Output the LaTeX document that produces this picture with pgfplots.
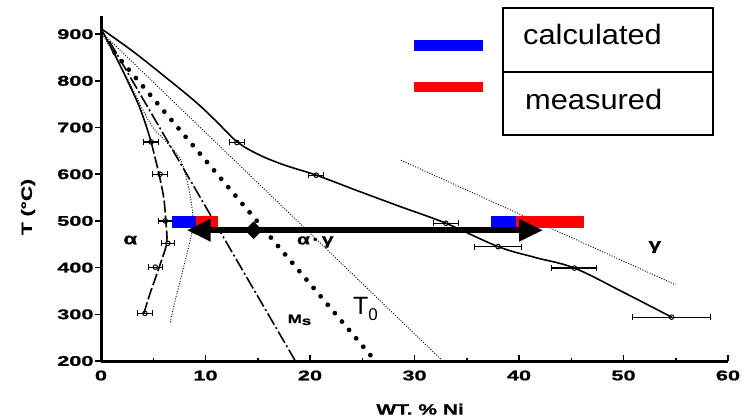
\documentclass[border=0pt]{standalone}
\usepackage{fontspec}
\setmainfont{Liberation Sans}
\newfontfamily\tickfont{Liberation Sans}[FakeStretch=1.55,FakeBold=1.2]
\newfontfamily\labfont{Liberation Sans}[FakeStretch=1.4,FakeBold=1]
\newfontfamily\legfont{Liberation Sans}[FakeStretch=1.1]
\usepackage{pgfplots}
\pgfplotsset{compat=1.18}
\usetikzlibrary{arrows.meta}
\begin{document}
\begin{tikzpicture}
\path[use as bounding box] (0,0) rectangle (742pt,418pt);
\begin{axis}[
  at={(101pt,57pt)}, anchor=south west,
  scale only axis, width=627pt, height=344.6pt,
  xmin=0, xmax=60, ymin=200, ymax=938,
  axis x line=bottom, axis y line=left,
  axis line style={-, line width=3pt},
  xtick={0,10,...,60}, minor xtick={5,15,...,55},
  ytick={200,300,...,900},
  xtick align=inside, ytick align=outside,
  major tick length=6pt, minor tick length=3.5pt,
  tick style={line width=1.5pt, black},
  tick label style={font=\tickfont\bfseries\fontsize{14}{14}\selectfont},
  xticklabel style={yshift=-6pt},
  yticklabel style={xshift=2pt},
  /pgf/number format/assume math mode=true,
  xlabel={WT.\ \% Ni}, ylabel={T (°C)},
  label style={font=\labfont\bfseries\fontsize{15}{15}\selectfont},
  xlabel style={at={(axis description cs:0.509,-0.14)}, anchor=center},
  ylabel style={at={(axis description cs:-0.1164,0.447)}, anchor=center},
  clip=false,
]
% alpha / alpha+gamma boundary (measured)
\addplot[black, line width=1.6pt, smooth] coordinates {(0,912) (1.5,848) (3.4,759) (4.2,712) (4.8,669)};
\addplot[black, line width=1.6pt, smooth, dash pattern=on 12pt off 3pt] coordinates {(4.8,669) (5.5,605) (6.0,550) (6.2,500) (6.3,455) (5.8,416) (4.7,345) (4.1,302)};
% alpha+gamma / gamma boundary (measured)
\addplot[black, line width=1.6pt, smooth, tension=0.6] coordinates {(0,912) (3,864) (6,811) (9,756) (11,714) (13,670) (15,643) (17.5,620) (20.6,598) (24.5,565) (28.6,531) (33,495) (38,445) (41.5,422) (45.3,399) (50,347) (54.6,294)};
% calculated thin dotted lines
\addplot[black, line width=0.9pt, smooth, dash pattern=on 1pt off 1.6pt] coordinates {(0,905) (2.4,810) (4.7,709) (6.3,668) (7.6,632) (8.3,580) (8.7,530) (8.8,490) (8.5,455) (8.0,410) (7.6,373) (7.1,330) (6.6,281)};
\addplot[black, line width=0.9pt, dash pattern=on 1pt off 1.6pt] coordinates {(0,905) (32.7,200)};
\addplot[black, line width=0.9pt, dash pattern=on 1pt off 1.6pt] coordinates {(28.7,630) (55,363)};
% Ms
\addplot[black, line width=1.6pt, dash pattern=on 13pt off 3pt on 2pt off 3pt] coordinates {(0.8,885) (18.6,200)};
% T0
\addplot[black, line width=4.8pt, line cap=round, dash pattern=on 0pt off 11pt] coordinates {(1.3,860) (25.8,212)};
% data points with error bars
\addplot[black, only marks, mark=o, mark size=2.3pt, mark options={fill=white, line width=1pt},
  error bars/.cd, x dir=both, x explicit, error mark=|, error mark options={mark size=3pt, line width=1pt}, error bar style={line width=1.2pt}]
  coordinates {(4.8,669) +- (0.7,0) (5.65,600) +- (0.7,0) (6.15,500) +- (0.65,0) (6.4,452) +- (0.6,0) (5.2,401) +- (0.65,0) (4.2,302) +- (0.75,0)
  (13.0,668) +- (0.7,0) (20.6,598) +- (0.7,0) (33.0,495) +- (1.2,0) (38.0,445) +- (2.25,0) (45.3,399) +- (2.15,0) (54.6,294) +- (3.7,0)};
% calculated / measured ranges
\addplot[blue, line width=11.7pt] coordinates {(6.8,497.5) (9.1,497.5)};
\addplot[red, line width=11.7pt] coordinates {(9.1,497.5) (11.2,497.5)};
\addplot[blue, line width=11.7pt] coordinates {(37.3,497.5) (39.7,497.5)};
\addplot[red, line width=11.7pt] coordinates {(39.7,497.5) (46.2,497.5)};
% arrow
\addplot[black, line width=6pt, {Triangle[length=24pt,width=21pt]}-{Triangle[length=24pt,width=21pt]}] coordinates {(8.2,480) (42.3,480)};
\addplot[black, only marks, mark=square*, mark size=6pt, mark options={rotate=45}] coordinates {(14.6,480)};
% labels
\node[font=\labfont\bfseries\fontsize{16}{16}\selectfont] at (axis cs:2.8,459) {α};
\node[font=\labfont\bfseries\fontsize{15}{15}\selectfont] at (axis cs:20.5,455) {α\,·\,γ};
\node[font=\labfont\bfseries\fontsize{16}{16}\selectfont] at (axis cs:53,444) {γ};
\node[font=\labfont\bfseries\fontsize{12}{12}\selectfont] at (axis cs:19.0,288) {M\raisebox{-2pt}{s}};
\node[anchor=base west, font=\fontsize{25}{25}\selectfont, inner sep=0pt] at (axis cs:24.1,300) {T\raisebox{-6pt}{\fontsize{17}{17}\selectfont 0}};
\end{axis}
% legend
\draw[line width=1.2pt] (503pt,283pt) rectangle (713pt,410pt);
\draw[line width=1.2pt] (503pt,346pt) -- (713pt,346pt);
\fill[blue] (414pt,366.5pt) rectangle (483pt,377.5pt);
\fill[red] (414pt,326pt) rectangle (483pt,336pt);
\node[anchor=base west, inner sep=0pt, font=\legfont\fontsize{28}{28}\selectfont] at (523pt,373pt) {calculated};
\node[anchor=base west, inner sep=0pt, font=\legfont\fontsize{28}{28}\selectfont] at (525pt,308pt) {measured};
\end{tikzpicture}
\end{document}
